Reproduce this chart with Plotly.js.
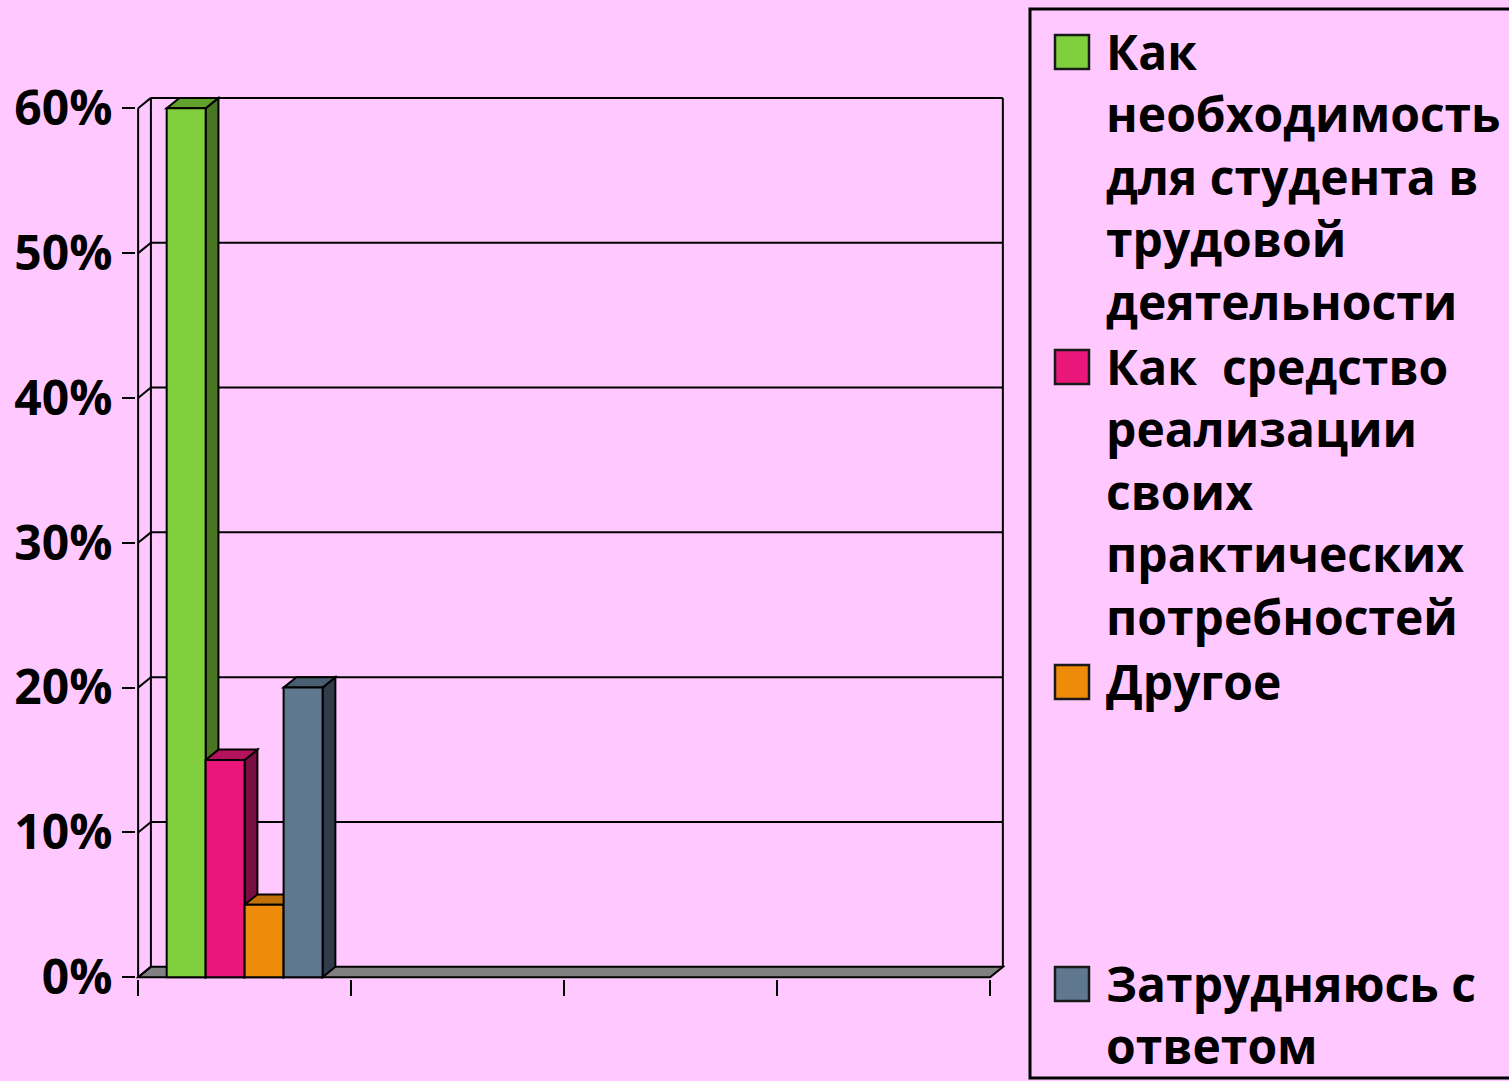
<!DOCTYPE html>
<html>
<head>
<meta charset="utf-8">
<script src="https://cdn.plot.ly/plotly-3.0.1.min.js"></script>
<style>
  html, body { margin: 0; padding: 0; background: #FFC8FF; }
  #chart { width: 1509px; height: 1081px; }
</style>
</head>
<body>
<div id="chart"></div>
<script>
// ---- data ----
const seriesNames = [
  'Как<br>необходимость<br>для студента в<br>трудовой<br>деятельности',
  'Как\u00a0\u00a0средство<br>реализации<br>своих<br>практических<br>потребностей',
  'Другое',
  'Затрудняюсь с<br>ответом'
];
const seriesValues = [60, 15, 5, 20];          // percent
const categoryPosition = [0];                    // the single filled category slot
const categorySlotBounds = [-0.5, 0.5, 1.5, 2.5, 3.5];
const yTickValues = [0, 10, 20, 30, 40, 50, 60];
const yTickLabels = ['0%', '10%', '20%', '30%', '40%', '50%', '60%'];

// ---- styles ----
const frontColors = ['#80CF3C', '#EA1679', '#EE8B09', '#5F7890'];
const sideColors  = ['#4A7522', '#7A0D42', '#8A5205', '#2F3D4B'];
const topColors   = ['#62A12C', '#B5125E', '#C27008', '#4A5E72'];
const bg = '#FFC8FF';
const FONT = '"Open Sans", "Noto Sans", sans-serif';
const W = 1509, H = 1081;
const M = {l: 136, r: 504, t: 96, b: 102};
const xRange = [-0.51, 3.57];
const yRange = [-0.12, 60.85];
const DX = 0.06, DY = 0.72;   // depth offset (x in category units, y in percent)
const bargap = 0.268;

const traces = seriesNames.map((n, i) => ({
  type: 'bar',
  x: categoryPosition,
  y: [seriesValues[i]],
  name: n,
  showlegend: false,
  marker: {color: frontColors[i], line: {color: '#000', width: 2}},
  hoverinfo: 'y'
}));

const shapes = [];
const line = (x0, y0, x1, y1) => shapes.push({type: 'line', xref: 'x', yref: 'y', x0, y0, x1, y1, layer: 'below', line: {color: '#000', width: 2}});
const xl = categorySlotBounds[0], xr = categorySlotBounds[categorySlotBounds.length - 1];
const yTop = yTickValues[yTickValues.length - 1];

// floor
shapes.push({type: 'path', xref: 'x', yref: 'y', layer: 'below',
  path: `M${xl},0 L${xr},0 L${xr + DX},${DY} L${xl + DX},${DY} Z`,
  fillcolor: '#808080', line: {color: '#000', width: 2}});
// back wall gridlines and left wall connectors
yTickValues.forEach(v => {
  if (v > 0) line(xl + DX, v + DY, xr + DX, v + DY);
  line(xl, v, xl + DX, v + DY);
});
line(xl + DX, DY, xl + DX, yTop + DY);   // back-left edge
line(xr + DX, DY, xr + DX, yTop + DY);   // back-right edge
line(xl, 0, xl, yTop);                    // front-left edge

// 3D faces of bars
const groupW = 1 - bargap, barW = groupW / seriesValues.length;
seriesValues.forEach((v, i) => {
  const x0 = categoryPosition[0] - groupW / 2 + i * barW, x1 = x0 + barW;
  shapes.push({type: 'path', xref: 'x', yref: 'y', layer: 'below',
    path: `M${x1},0 L${x1 + DX},${DY} L${x1 + DX},${v + DY} L${x1},${v} Z`,
    fillcolor: sideColors[i], line: {color: '#000', width: 2}});
  shapes.push({type: 'path', xref: 'x', yref: 'y', layer: 'below',
    path: `M${x0},${v} L${x0 + DX},${v + DY} L${x1 + DX},${v + DY} L${x1},${v} Z`,
    fillcolor: topColors[i], line: {color: '#000', width: 2}});
});

// custom legend (large swatches) in paper coords
const pw = W - M.l - M.r, ph = H - M.t - M.b;
const px = x => (x - M.l) / pw;
const py = y => 1 - (y - M.t) / ph;
shapes.push({type: 'rect', xref: 'paper', yref: 'paper', x0: px(1030), x1: px(1515), y0: py(9), y1: py(1078),
  line: {color: '#000', width: 3}, fillcolor: 'rgba(0,0,0,0)'});
const legendCenters = [52, 367, 682, 984];
const annotations = [];
seriesNames.forEach((n, i) => {
  const c = legendCenters[i];
  shapes.push({type: 'rect', xref: 'paper', yref: 'paper', x0: px(1055), x1: px(1089), y0: py(c - 17), y1: py(c + 17),
    fillcolor: frontColors[i], line: {color: '#1a1a1a', width: 2.5}});
  annotations.push({xref: 'paper', yref: 'paper', x: px(1104), y: py(c - 35), xanchor: 'left', yanchor: 'top',
    align: 'left', showarrow: false, text: n,
    font: {family: FONT, size: 48, color: '#000', weight: 700}});
});

const layout = {
  width: W, height: H,
  paper_bgcolor: bg, plot_bgcolor: 'rgba(0,0,0,0)',
  margin: M,
  barmode: 'group', bargap: bargap, bargroupgap: 0,
  showlegend: false,
  xaxis: {range: xRange, tickmode: 'array', tickvals: categorySlotBounds, ticktext: categorySlotBounds.map(() => ''),
    ticks: 'outside', ticklen: 16, tickwidth: 2, tickcolor: '#000', showgrid: false, zeroline: false, showline: false,
    fixedrange: true},
  yaxis: {range: yRange, tickmode: 'array', tickvals: yTickValues, ticktext: yTickLabels,
    ticks: 'outside', ticklen: 13, tickwidth: 2, tickcolor: '#000', showgrid: false, zeroline: false, showline: false,
    ticklabelstandoff: 0,
    tickfont: {family: FONT, size: 48, color: '#000', weight: 700}, fixedrange: true},
  shapes: shapes,
  annotations: annotations
};

Plotly.newPlot('chart', traces, layout, {displayModeBar: false, staticPlot: true});
</script>
</body>
</html>
